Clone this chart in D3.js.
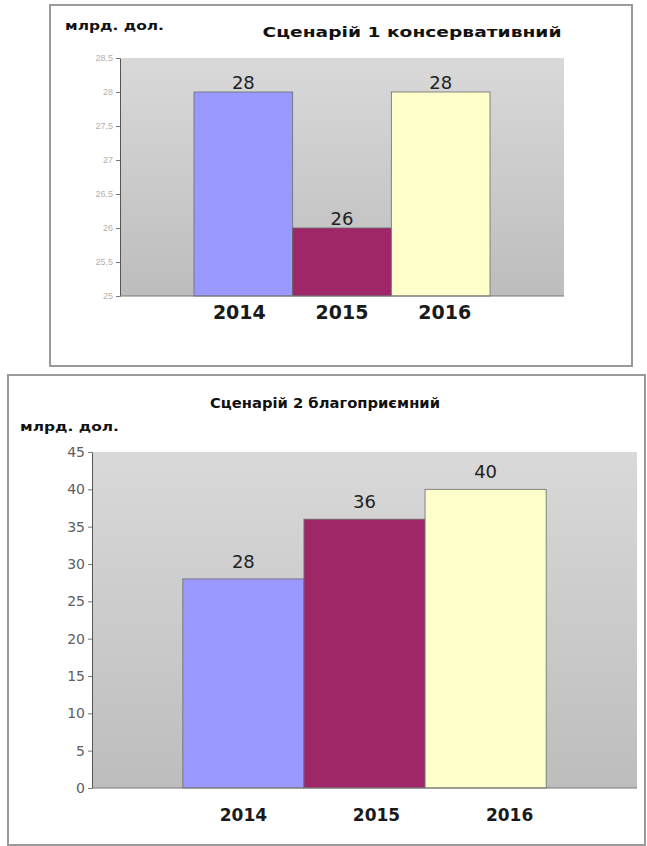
<!DOCTYPE html>
<html>
<head>
<meta charset="utf-8">
<script src="https://cdn.jsdelivr.net/npm/d3@7"></script>
<style>
  body { margin: 0; background: #fff; }
  svg { display: block; font-family: "Liberation Sans", Arial, sans-serif; }
</style>
</head>
<body>
<div id="chart"></div>
<script>
// data
const years = ["2014", "2015", "2016"];
const scenario1Values = [28, 26, 28];
const scenario2Values = [28, 36, 40];
const scenario1Ticks = [25, 25.5, 26, 26.5, 27, 27.5, 28, 28.5];
const scenario2Ticks = [0, 5, 10, 15, 20, 25, 30, 35, 40, 45];
const barColors = ["#9999ff", "#a0266a", "#ffffcc"];
const scenario1Title = "Сценарій 1 консервативний";
const scenario2Title = "Сценарій 2 благоприємний";
const unitLabel = "млрд. дол.";

const svg = d3.select("#chart").append("svg")
    .attr("width", 647)
    .attr("height", 846);

const defs = svg.append("defs");
const grad = defs.append("linearGradient")
    .attr("id", "plotBg")
    .attr("x1", 0).attr("y1", 0).attr("x2", 0).attr("y2", 1);
grad.append("stop").attr("offset", "0%").attr("stop-color", "#d9d9d9");
grad.append("stop").attr("offset", "100%").attr("stop-color", "#bdbdbd");

const boldFont = "DejaVu Sans, Verdana, sans-serif";

/** one framed bar chart */
function drawChart(cfg) {
    const g = svg.append("g");

    // outer frame
    g.append("rect")
        .attr("x", cfg.frame[0]).attr("y", cfg.frame[1])
        .attr("width", cfg.frame[2]).attr("height", cfg.frame[3])
        .attr("fill", "#fff")
        .attr("stroke", "#9a9a9a")
        .attr("stroke-width", 2);

    const m = cfg.plot; // left, top, right, bottom
    const width = m.right - m.left, height = m.bottom - m.top;

    const xScale = d3.scaleBand().domain(years)
        .range([m.left, m.right]).paddingInner(0).paddingOuter(0.75);
    const yScale = d3.scaleLinear().domain(d3.extent(cfg.ticks)).range([m.bottom, m.top]);

    // plot area
    g.append("rect")
        .attr("x", m.left).attr("y", m.top)
        .attr("width", width).attr("height", height)
        .attr("fill", "url(#plotBg)");

    g.selectAll(".bar")
        .data(cfg.values)
        .enter().append("rect")
        .attr("class", "bar")
        .attr("x", (d, i) => xScale(years[i]))
        .attr("y", d => yScale(d))
        .attr("width", xScale.bandwidth())
        .attr("height", d => m.bottom - yScale(d))
        .attr("fill", (d, i) => barColors[i])
        .attr("stroke", "#6b6b6b")
        .attr("stroke-width", 0.8);

    // value labels
    g.selectAll(".val")
        .data(cfg.values)
        .enter().append("text")
        .attr("x", (d, i) => xScale(years[i]) + xScale.bandwidth() / 2)
        .attr("y", d => yScale(d) - cfg.valueGap)
        .attr("text-anchor", "middle")
        .attr("font-family", boldFont)
        .attr("font-size", "18px")
        .attr("fill", "#222")
        .text(d => d);

    // y axis
    const yAxis = g.append("g")
        .attr("transform", "translate(" + m.left + ",0)")
        .call(d3.axisLeft(yScale).tickValues(cfg.ticks).tickSize(4).tickSizeOuter(0)
            .tickFormat(d => String(d).replace(".", ",")));
    yAxis.select(".domain").attr("stroke", "#555");
    yAxis.selectAll(".tick line").attr("stroke", "#777");
    yAxis.selectAll("text")
        .attr("font-size", cfg.tickFont)
        .attr("fill", cfg.tickColor)
        .attr("font-family", cfg.tickFamily);

    // baseline
    g.append("line")
        .attr("x1", m.left).attr("x2", m.right)
        .attr("y1", m.bottom).attr("y2", m.bottom)
        .attr("stroke", "#777");

    // year labels
    g.selectAll(".year")
        .data(years)
        .enter().append("text")
        .attr("x", d => xScale(d) + xScale.bandwidth() / 2 + cfg.yearShift(d))
        .attr("y", m.bottom + cfg.yearGap)
        .attr("text-anchor", "middle")
        .attr("font-family", boldFont)
        .attr("font-size", cfg.yearFont)
        .attr("font-weight", "bold")
        .attr("fill", "#1a1a1a")
        .text(d => d);

    g.append("text")
        .attr("x", cfg.titlePos[0]).attr("y", cfg.titlePos[1])
        .attr("text-anchor", "middle")
        .attr("font-family", boldFont)
        .attr("font-size", "14px")
        .attr("font-weight", "bold")
        .attr("fill", "#111")
        .attr("textLength", cfg.titleWidth)
        .attr("lengthAdjust", "spacingAndGlyphs")
        .text(cfg.title);

    g.append("text")
        .attr("x", cfg.unitPos[0]).attr("y", cfg.unitPos[1])
        .attr("font-family", boldFont)
        .attr("font-size", "13px")
        .attr("font-weight", "bold")
        .attr("fill", "#111")
        .attr("textLength", 99)
        .attr("lengthAdjust", "spacingAndGlyphs")
        .text(unitLabel);
}

drawChart({
    frame: [50, 5, 582, 361],
    plot: { left: 120, top: 58, right: 564, bottom: 296 },
    values: scenario1Values,
    ticks: scenario1Ticks,
    tickFont: "9px",
    tickFamily: "Liberation Sans, Arial, sans-serif",
    tickColor: "#b0b0b0",
    valueGap: 3,
    yearGap: 23,
    yearFont: "19px",
    yearShift: d => (years.indexOf(d) - 1) * 4,
    title: scenario1Title,
    titleWidth: 299,
    titlePos: [412, 37],
    unitPos: [65, 30]
});

drawChart({
    frame: [8, 375, 637, 470],
    plot: { left: 92, top: 452, right: 637, bottom: 788 },
    values: scenario2Values,
    ticks: scenario2Ticks,
    tickFont: "14px",
    tickFamily: boldFont,
    tickColor: "#606060",
    valueGap: 11,
    yearGap: 33,
    yearFont: "17px",
    yearShift: d => (years.indexOf(d)) * 12,
    title: scenario2Title,
    titleWidth: 230,
    titlePos: [325, 408],
    unitPos: [20, 431]
});
</script>
</body>
</html>
